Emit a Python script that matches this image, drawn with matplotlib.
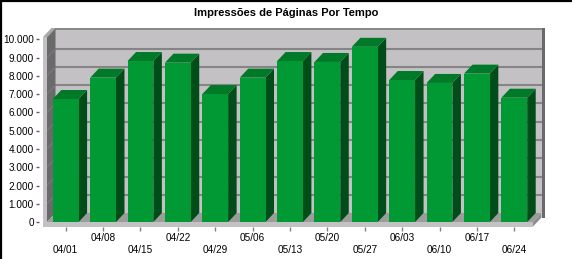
import matplotlib
matplotlib.use("Agg")
import matplotlib.pyplot as plt
from matplotlib.lines import Line2D

plt.rcParams["font.family"] = ["Liberation Sans", "DejaVu Sans"]

# data
dates = ["04/01", "04/08", "04/15", "04/22", "04/29", "05/06", "05/13",
         "05/20", "05/27", "06/03", "06/10", "06/17", "06/24"]
views = [6740, 7910, 8820, 8730, 7010, 7910, 8820, 8770, 9600, 7780, 7620, 8130, 6810]
yticks = list(range(0, 10001, 1000))
title = "Impressões de Páginas Por Tempo"

W, H = 572, 259
fig = plt.figure(figsize=(W / 100, H / 100), dpi=100)
fig.patch.set_facecolor("white")

# front plane of the pseudo-3d box
ax = fig.add_axes([47 / W, 37 / H, 486 / W, 182.5 / H])
n = len(dates)
ax.set_xlim(-0.5, n - 0.5)
ax.set_ylim(0, 10000)
ax.patch.set_visible(False)
for s in ax.spines.values():
    s.set_visible(False)

px_x = 486 / n            # pixels per category
px_y = 182.5 / 10000      # pixels per unit of value
dx = 8.5 / px_x
dy = 9 / px_y
strip = 4 / px_x
thick = 4.5 / px_y
top = 10000 + 2.5 / px_y
x0, x1 = -0.5, n - 0.5

wall = "#c3c1c3"
dark_wall = "#6a6a6a"
grid = "#858585"
floor_top = "#9c9c9c"

kw = dict(clip_on=False, lw=0)
# back wall
ax.fill([x0 + dx, x1 + dx, x1 + dx, x0 + dx], [dy, dy, top + dy, top + dy],
        color=wall, zorder=1, **kw)
ax.fill([x0 + dx, x1 + dx, x1 + dx, x0 + dx],
        [top + dy - 2.5 / px_y, top + dy - 2.5 / px_y, top + dy, top + dy],
        color="#8a8a8a", zorder=1.1, **kw)
ax.fill([x1 + dx, x1 + dx + 3 / px_x, x1 + dx + 3 / px_x, x1 + dx],
        [dy - thick, dy - thick, top + dy, top + dy],
        color=dark_wall, zorder=1.1, **kw)
for v in yticks[1:-1]:
    ax.plot([x0 + dx, x1 + dx], [v + dy, v + dy], color=grid, lw=1.5,
            zorder=1.5, clip_on=False, solid_capstyle="butt")

# left wall
ax.fill([x0, x0 + dx, x0 + dx, x0], [0, dy, top + dy, top],
        color=dark_wall, zorder=2, **kw)
for v in yticks[1:-1]:
    ax.plot([x0, x0 + dx], [v, v + dy], color="#7a7a7a", lw=0.8,
            zorder=2.1, clip_on=False)
ax.fill([x0 - strip, x0, x0, x0 - strip], [-thick, -thick, top, top],
        color=wall, zorder=2.2, **kw)
ax.fill([x0 - strip, x0, x0 + dx, x0 - strip + dx], [top, top, top + dy, top + dy],
        color="#a8a8a8", zorder=2.2, **kw)

# floor
ax.fill([x0, x1, x1 + dx, x0 + dx], [0, 0, dy, dy], color=floor_top, zorder=2, **kw)
ax.fill([x0 - strip, x1, x1, x0 - strip], [-thick, -thick, 0, 0],
        color=wall, zorder=2.3, **kw)
ax.fill([x1, x1 + dx, x1 + dx, x1], [-thick, dy - thick, dy, 0],
        color="#8c8c8c", zorder=2.3, **kw)

# bars
bw = 0.69
front = "#009933"
top_c = "#007a29"
side_c = "#004d19"
xs = list(range(n))
ax.bar(xs, views, width=bw, color=front, zorder=4, lw=0)
for x, v in zip(xs, views):
    l, r = x - bw / 2, x + bw / 2
    ax.fill([r, r + dx, r + dx, r], [0, dy, v + dy, v], color=side_c, zorder=3.5, **kw)
    ax.fill([l, r, r + dx, l + dx], [v, v, v + dy, v + dy], color=top_c, zorder=3.5, **kw)

# y axis
ax.spines["left"].set_position(("outward", 5.8))
ax.set_yticks(yticks)
ax.set_yticklabels([f"{v:,}".replace(",", ".") for v in yticks])
ax.tick_params(axis="y", length=2.2, width=1, color="#606060", pad=1.5,
               labelsize=7.2, labelcolor="black")

# x axis: two rows of labels
ax.spines["bottom"].set_position(("outward", 4.5 * 0.72))
ax.set_xticks(xs[0::2])
ax.set_xticklabels(dates[0::2])
ax.set_xticks(xs[1::2], minor=True)
ax.set_xticklabels(dates[1::2], minor=True)
ax.tick_params(axis="x", which="major", length=3, width=1, color="#808080",
               pad=10, labelsize=7.2)
ax.tick_params(axis="x", which="minor", length=3, width=1, color="#808080",
               pad=1.8, labelsize=7.2)

fig.text(286 / W, 1 - 13 / H, title, ha="center", va="center",
         fontsize=8, fontweight="bold")

# black frame on the left and top edges
fig.add_artist(Line2D([0.5 / W, 0.5 / W], [0, 1], transform=fig.transFigure,
                      color="black", lw=1.6))
fig.add_artist(Line2D([0, 1], [1 - 0.5 / H, 1 - 0.5 / H], transform=fig.transFigure,
                      color="black", lw=1.6))

fig.savefig("out.png", dpi=100)
